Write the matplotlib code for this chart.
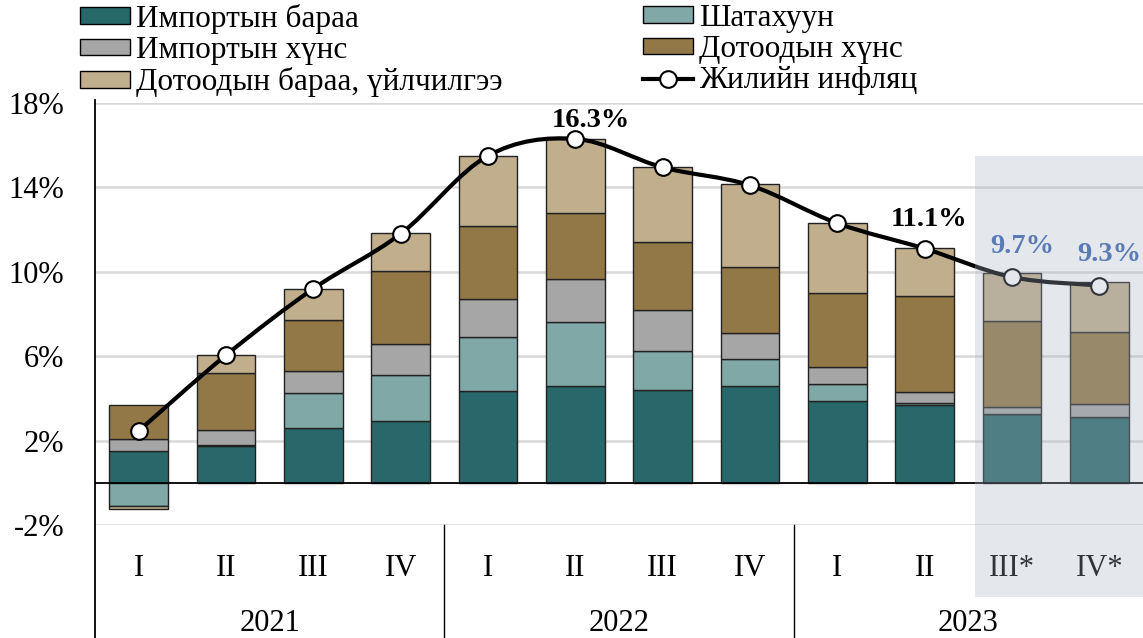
import numpy as np
import matplotlib
matplotlib.use("Agg")
import matplotlib.pyplot as plt
from matplotlib.path import Path
from matplotlib.patches import PathPatch, Rectangle, Patch
from matplotlib.lines import Line2D

plt.rcParams['font.family'] = ['Liberation Serif', 'DejaVu Serif']

# data (percentage point contributions to annual inflation)
quarters = ['I', 'II', 'III', 'IV', 'I', 'II', 'III', 'IV', 'I', 'II', 'III*', 'IV*']
years = ['2021', '2022', '2023']
import_goods = [1.52, 1.73, 2.59, 2.94, 4.33, 4.60, 4.39, 4.57, 3.87, 3.68, 3.24, 3.10]
fuel = [-1.12, 0.08, 1.67, 2.15, 2.57, 3.00, 1.85, 1.29, 0.79, 0.11, 0.0, 0.0]
import_food = [0.57, 0.68, 1.03, 1.50, 1.82, 2.04, 1.96, 1.25, 0.82, 0.49, 0.33, 0.62]
domestic_food = [1.61, 2.70, 2.43, 3.46, 3.44, 3.16, 3.21, 3.11, 3.52, 4.57, 4.08, 3.44]
domestic_goods = [-0.12, 0.85, 1.48, 1.80, 3.32, 3.50, 3.55, 3.92, 3.29, 2.27, 2.31, 2.34]
inflation = [2.46, 6.05, 9.2, 11.8, 15.5, 16.3, 14.95, 14.1, 12.3, 11.1, 9.75, 9.35]

label_idx = [5, 9, 10, 11]
label_text = ['16.3%', '11.1%', '9.7%', '9.3%']

series = [
    ('Импортын бараа', import_goods, '#29686a'),
    ('Шатахуун', fuel, '#7fa8a6'),
    ('Импортын хүнс', import_food, '#a6a6a6'),
    ('Дотоодын хүнс', domestic_food, '#927846'),
    ('Дотоодын бараа, үйлчилгээ', domestic_goods, '#c0ae8c'),
]

fig = plt.figure(figsize=(11.43, 6.38), dpi=100)
ax = fig.add_axes([95 / 1143, 1 - 525 / 638, 1 - 95 / 1143, 422 / 638])

x = np.arange(len(quarters))
pos_bottom = np.zeros(len(x))
neg_bottom = np.zeros(len(x))
for name, vals, col in series:
    v = np.array(vals)
    bottom = np.where(v >= 0, pos_bottom, neg_bottom)
    ax.bar(x, v, bottom=bottom, width=0.675, color=col, edgecolor='#222222',
           linewidth=1.0, zorder=3)
    pos_bottom = pos_bottom + np.where(v >= 0, v, 0)
    neg_bottom = neg_bottom + np.where(v < 0, v, 0)

# smoothed line (bezier through the points, like a spreadsheet "smoothed line")
pts = np.column_stack([x, inflation]).astype(float)
ext = np.vstack([pts[0], pts, pts[-1]])
verts = [tuple(pts[0])]
codes = [Path.MOVETO]
for i in range(len(pts) - 1):
    p0, p1, p2, p3 = ext[i], ext[i + 1], ext[i + 2], ext[i + 3]
    c1 = p1 + (p2 - p0) / 6
    c2 = p2 - (p3 - p1) / 6
    verts += [tuple(c1), tuple(c2), tuple(p2)]
    codes += [Path.CURVE4] * 3
ax.add_patch(PathPatch(Path(verts, codes), fill=False, edgecolor='black',
                       linewidth=3, zorder=5, capstyle='round'))
ax.plot(x, inflation, linestyle='none', marker='o', markersize=12,
        markerfacecolor='white', markeredgecolor='black', markeredgewidth=1.5,
        zorder=6)

ax.set_xlim(-0.5, len(x) - 0.5)
ax.set_ylim(-2, 18)
ax.set_yticks([-2, 2, 6, 10, 14, 18])
ax.set_yticklabels([f'{t}%' for t in [-2, 2, 6, 10, 14, 18]], fontsize=22)
ax.grid(axis='y', color='#d9d9d9', linewidth=1.8, zorder=0)
ax.axhline(0, color='black', linewidth=1.3, zorder=4)
ax.tick_params(axis='y', length=0, pad=22)
ax.tick_params(axis='x', length=0, pad=21)
ax.set_xticks(x)
ax.set_xticklabels(quarters, fontsize=22)
for s in ['top', 'right', 'bottom', 'left']:
    ax.spines[s].set_visible(False)

# left axis line and year separators, reaching below the plot area
ax.plot([-0.5, -0.5], [-7.5, 18.15], color='black', linewidth=1.3, clip_on=False, zorder=4)
for sx in [3.5, 7.5]:
    ax.plot([sx, sx], [-2, -7.5], color='black', linewidth=1.0, clip_on=False, zorder=4)
for k, yr in enumerate(years):
    ax.text(4 * k + 1.5, -6.65, yr, ha='center', va='center', fontsize=22)

# forecast shading
ax.add_patch(Rectangle((9.58, -5.4), 11.5 - 9.58, 15.5 + 5.4, facecolor='#a8b2c3',
                       alpha=0.3, edgecolor='none', clip_on=False, zorder=10))

# value labels
for i, t in zip(label_idx, label_text):
    if i >= 10:
        ax.annotate(t, (x[i], inflation[i]), xytext=(10, 31), textcoords='offset pixels',
                    ha='center', va='center', fontsize=20.5, fontweight='bold',
                    color='#5a7bb5', zorder=11)
    elif i == 5:
        ax.annotate(t, (x[i], inflation[i]), xytext=(16, 18), textcoords='offset pixels',
                    ha='center', va='center', fontsize=20.5, fontweight='bold', zorder=11)
    else:
        ax.annotate(t, (x[i], inflation[i]), xytext=(4, 29), textcoords='offset pixels',
                    ha='center', va='center', fontsize=20.5, fontweight='bold', zorder=11)

# legend in two blocks
def patch(c):
    return Patch(facecolor=c, edgecolor='black', linewidth=1.0)

left_h = [patch(series[0][2]), patch(series[2][2]), patch(series[4][2])]
left_l = [series[0][0], series[2][0], series[4][0]]
right_h = [patch(series[1][2]), patch(series[3][2]),
           Line2D([], [], color='black', linewidth=3, marker='o', markersize=12,
                  markerfacecolor='white', markeredgecolor='black', markeredgewidth=1.5)]
right_l = [series[1][0], series[3][0], 'Жилийн инфляц']

kw = dict(loc='upper left', frameon=False, fontsize=22.5, borderpad=0, borderaxespad=0,
          handlelength=1.6, handleheight=0.45, handletextpad=0.2, labelspacing=0.07)
fig.legend(left_h, left_l, bbox_to_anchor=(80 / 1143, 1 - 4 / 638), **kw)
fig.legend(right_h, right_l, bbox_to_anchor=(643 / 1143, 1 - 4 / 638), **kw)

fig.savefig('out.png', dpi=100)
